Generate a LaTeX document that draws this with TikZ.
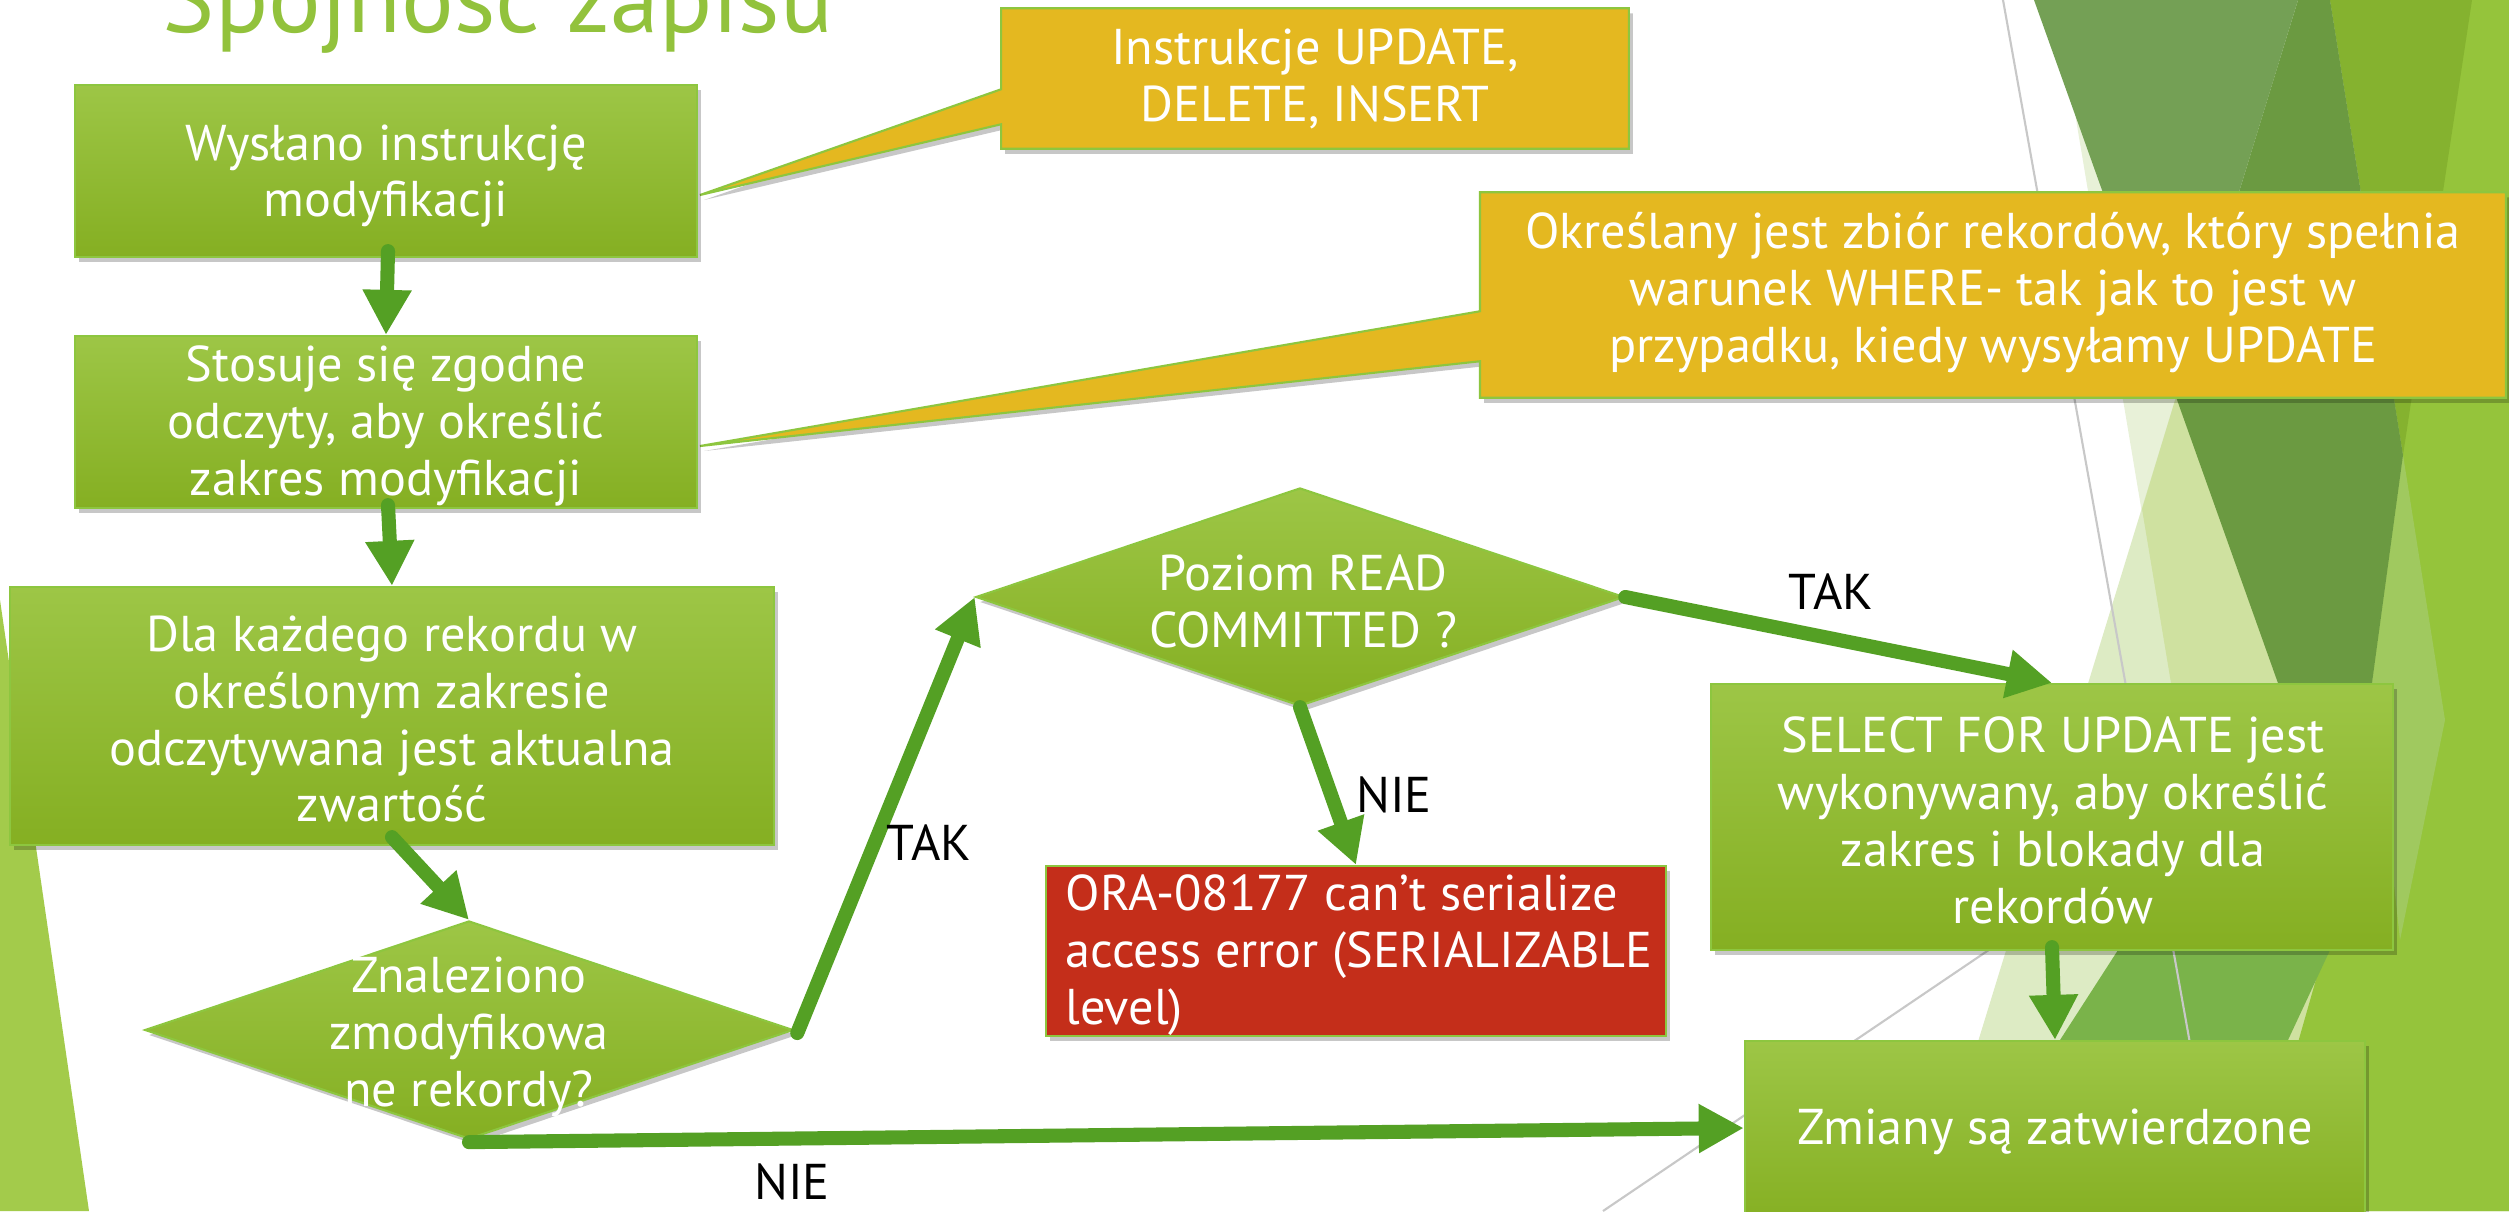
\documentclass[tikz,border=0pt]{standalone}
\usepackage{fontspec}
\setmainfont{PT Sans}
\usetikzlibrary{arrows.meta,shapes.geometric,calc,shadows}

\definecolor{boxtop}{RGB}{157,198,70}
\definecolor{boxbot}{RGB}{133,175,34}
\definecolor{boxline}{RGB}{141,198,63}
\definecolor{arrowgreen}{RGB}{84,160,36}
\definecolor{calloutyellow}{RGB}{228,184,32}
\definecolor{errred}{RGB}{196,46,26}
\definecolor{titlegreen}{RGB}{146,194,60}
\definecolor{paleA}{RGB}{232,241,216}
\definecolor{paleB}{RGB}{221,235,196}
\definecolor{paleAB}{RGB}{207,225,160}
\definecolor{muted}{RGB}{116,160,85}
\definecolor{darkg}{RGB}{107,154,65}
\definecolor{oliveg}{RGB}{133,178,47}
\definecolor{lightR}{RGB}{149,196,59}
\definecolor{stripg}{RGB}{160,201,95}
\definecolor{mediumg}{RGB}{122,179,74}
\definecolor{leftg}{RGB}{163,203,75}
\definecolor{grayline}{RGB}{200,200,200}

\tikzset{
  boxtext/.style={font=\fontsize{14.3}{16.2}\selectfont, text=white, align=center, inner sep=0pt},
  lbl/.style={font=\fontsize{14.3}{16.2}\selectfont, text=black, inner sep=0pt},
  softshadow/.style={drop shadow={shadow xshift=0.04cm, shadow yshift=-0.05cm, fill=black, opacity=0.22}},
  greenbox/.style={rectangle, draw=boxline, line width=0.6pt, top color=boxtop, bottom color=boxbot, softshadow, inner sep=0pt},
  greendiamond/.style={diamond, draw=boxline, line width=0.6pt, top color=boxtop, bottom color=boxbot, softshadow, inner sep=0pt, minimum width=6.48cm, minimum height=2.18cm},
  redbox/.style={rectangle, draw=boxline, line width=0.6pt, fill=errred, softshadow, inner sep=0pt},
  callout/.style={draw=boxline, line width=0.6pt, fill=calloutyellow, softshadow},
  anchorbox/.style={rectangle, inner sep=0pt},
  flowarrow/.style={draw=arrowgreen, line width=4pt, line cap=round, -{Triangle[width=0.46cm,length=0.45cm]}},
  bgline/.style={draw=grayline, line width=0.6pt},
}

\begin{document}
\begin{tikzpicture}[x=0.01cm, y=-0.01cm]
\useasboundingbox (0,0) rectangle (2509,1211);
\clip (0,0) rectangle (2509,1211);

% ---------- background decoration ----------
\fill[white] (0,0) rectangle (2509,1211);
\fill[leftg] (0,600) -- (89,1211) -- (0,1211) -- cycle;
\fill[paleA] (2056,0) -- (2509,0) -- (2509,1211) -- (2259,1211) -- cycle;
\fill[paleB] (2176,397) -- (1926,1211) -- (2509,1211) -- (2509,397) -- cycle;
\fill[paleAB] (2176,397) -- (2142,509) -- (2259,1211) -- (2509,1211) -- (2509,397) -- cycle;
\fill[lightR] (2330,0) -- (2509,0) -- (2509,1211) -- (2250,1211) -- (2346,874) -- (2403,455) -- cycle;
\fill[oliveg] (2330,0) -- (2472,0) -- (2403,455) -- cycle;
\fill[stripg] (2403,455) -- (2445,720) -- (2400,940) -- (2372,683) -- cycle;
\fill[darkg] (2176,397) -- (2298,0) -- (2330,0) -- (2403,455) -- (2346,874) -- cycle;
\fill[muted] (2034,0) -- (2298,0) -- (2176,397) -- cycle;
\fill[mediumg] (2200,820) -- (2380,800) -- (2330,950) -- (2288,1040) -- (2250,1211) -- (1950,1211) -- (2060,1040) -- (2118,950) -- cycle;
\draw[bgline] (2003,0) -- (2220,1211);
\draw[bgline] (1603,1211) -- (2200,807);

% ---------- title ----------
\node[anchor=base, font=\fontsize{28}{31}\selectfont, text=titlegreen, inner sep=0pt] (title) at (498,32) {Spójność zapisu};

% ---------- callouts ----------
\node[anchor=center, anchorbox, minimum width=6.26cm, minimum height=1.39cm] (c1) at (1315,78.5) {};
\path[callout] (c1.north west) -- (c1.north east) -- (c1.south east) -- (c1.south west)
  -- ($(c1.north west)+(0,116)$) -- (700,195) -- ($(c1.north west)+(0,81)$) -- cycle;
\node[boxtext] (c1t) at (1315,79) {Instrukcje UPDATE,\\DELETE, INSERT};

\node[anchor=center, anchorbox, minimum width=10.24cm, minimum height=2.04cm] (c2) at (1993,295) {};
\path[callout] (c2.north west) -- (c2.north east) -- (c2.south east) -- (c2.south west)
  -- ($(c2.north west)+(0,169)$) -- (700,446) -- ($(c2.north west)+(0,119)$) -- cycle;
\node[boxtext] (c2t) at (1993,293) {Określany jest zbiór rekordów, który spełnia\\warunek WHERE- tak jak to jest w\\przypadku, kiedy wysyłamy UPDATE};

% ---------- flow boxes ----------
\node[greenbox, minimum width=6.22cm, minimum height=1.72cm] (b1) at (386,171) {};
\node[boxtext] (b1t) at (386,176) {Wysłano instrukcję\\modyfikacji};

\node[greenbox, minimum width=6.22cm, minimum height=1.72cm] (b2) at (386,422) {};
\node[boxtext] (b2t) at (386,426) {Stosuje się zgodne\\odczyty, aby określić\\zakres modyfikacji};

\node[greenbox, minimum width=7.64cm, minimum height=2.58cm] (b3) at (392,716) {};
\node[boxtext] (b3t) at (392,719) {Dla każdego rekordu w\\określonym zakresie\\odczytywana jest aktualna\\zwartość};

\node[greendiamond] (d1) at (469,1030) {};
\node[boxtext] (d1t) at (469,1037) {Znaleziono\\zmodyfikowa\\ne rekordy?};

\node[greendiamond] (d2) at (1300,597) {};
\node[boxtext] (d2t) at (1303,601) {Poziom READ\\COMMITTED ?};

\node[redbox, minimum width=6.19cm, minimum height=1.70cm] (err) at (1356,951) {};
\node[boxtext, align=left, anchor=west] (errt) at (1065,955) {ORA-08177 can’t serialize\\access error (SERIALIZABLE\\level)};

\node[greenbox, minimum width=6.81cm, minimum height=2.66cm] (sel) at (2052,817) {};
\node[boxtext] (selt) at (2053,820) {SELECT FOR UPDATE jest\\wykonywany, aby określić\\zakres i blokady dla\\rekordów};

\node[greenbox, minimum width=6.20cm, minimum height=1.84cm] (zm) at (2055,1133) {};
\node[boxtext] (zmt) at (2055,1132) {Zmiany są zatwierdzone};

% ---------- connectors ----------
\draw[flowarrow] ($(b1.south)+(2,-7)$) -- (b2.north);
\draw[flowarrow] ($(b2.south)+(2,-4)$) -- (b3.north);
\draw[flowarrow] ($(b3.south)+(0,-9)$) -- (d1.north);
\draw[flowarrow] ($(d1.east)+(3,3)$) -- (d2.west);
\draw[flowarrow] (d2.south) -- (err.north);
\draw[flowarrow] (d2.east) -- (sel.north);
\draw[flowarrow] ($(sel.south)+(0,-4)$) -- (zm.north);
\draw[flowarrow] ($(d1.south)+(0,2)$) -- ($(zm.west)+(0,-5)$);

% ---------- labels ----------
\node[lbl] (tak1) at (929,843) {TAK};
\node[lbl] (nie1) at (1394,795) {NIE};
\node[lbl] (tak2) at (1831,592) {TAK};
\node[lbl] (nie2) at (792,1182) {NIE};
\end{tikzpicture}
\end{document}
